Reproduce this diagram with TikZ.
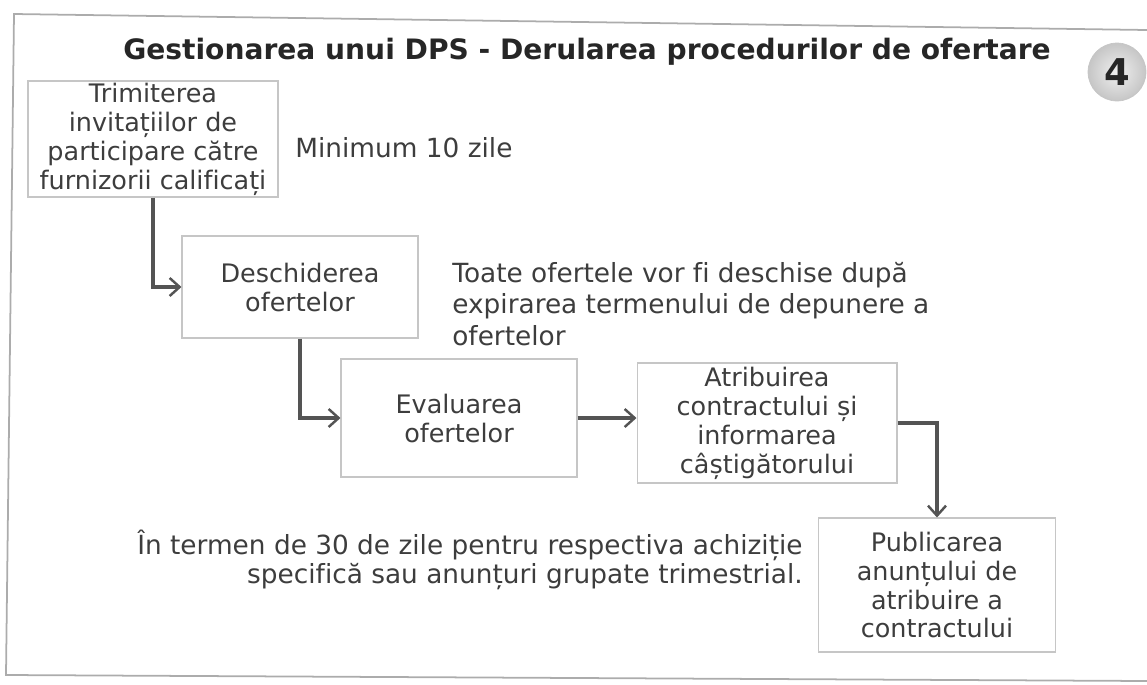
\documentclass[tikz,border=0pt]{standalone}
\usepackage{fontspec}
\setmainfont[Ligatures=NoCommon]{DejaVu Sans}
\usetikzlibrary{arrows.meta}
\definecolor{inkgray}{rgb}{0.24,0.24,0.24}
\definecolor{linegray}{rgb}{0.33,0.33,0.33}

\begin{document}
\begin{tikzpicture}
  [x=0.02cm,y=-0.02cm,every node/.style={text=inkgray,font=\fontsize{14.5}{16.5}\selectfont},
   box/.style={draw=gray!45,line width=0.6pt,align=center,inner sep=0pt},
   note/.style={inner sep=0pt,font=\fontsize{15}{17.5}\selectfont},
   flow/.style={draw=linegray,line width=2.2pt,-{Straight Barb[length=2mm,width=3.6mm,line width=1.4pt]}}]

  \useasboundingbox (0,0) rectangle (1147,684);
  \draw[gray!65,line width=1pt] (1147,30) -- (14,14) -- (6,675) -- (1147,681);

  \node[anchor=base,font=\fontsize{16}{19}\selectfont\bfseries,text=black!85] (title) at (587,59) {Gestionarea unui DPS - Derularea procedurilor de ofertare};
  \node[circle,draw=gray!45,inner color=gray!12,outer color=gray!45,minimum size=1.16cm,font=\fontsize{21}{24}\selectfont\bfseries,text=black!85] (badge) at (1117,72) {4};

  \node[box,minimum width=5cm,minimum height=2.32cm] (n1) at (153,139) {Trimiterea\\invitațiilor de\\participare către\\furnizorii calificați};
  \node[box,minimum width=4.72cm,minimum height=2.04cm] (n2) at (300,287) {Deschiderea\\ofertelor};
  \node[box,minimum width=4.72cm,minimum height=2.36cm] (n3) at (459,418) {Evaluarea\\ofertelor};
  \node[box,minimum width=5.2cm,minimum height=2.4cm] (n4) at (767,423) {Atribuirea\\contractului și\\informarea\\câștigătorului};
  \node[box,minimum width=4.74cm,minimum height=2.68cm] (n5) at (937,585) {Publicarea\\anunțului de\\atribuire a\\contractului};

  \node[note,anchor=base west] (t1) at (295,157) {Minimum 10 zile};
  \node[note,anchor=north west,align=left,font=\fontsize{15}{17.9}\selectfont] (t2) at (452,262) {Toate ofertele vor fi deschise după\\expirarea termenului de depunere a\\ofertelor};
  \node[note,anchor=north east,align=right,font=\fontsize{15}{16.2}\selectfont] (t3) at (803,530) {În termen de 30 de zile pentru respectiva achiziție\\specifică sau anunțuri grupate trimestrial.};

  \foreach \from/\to in {n1/n2,n2/n3}
    \draw[flow] (\from.south) |- (\to.west);
  \draw[flow] (n3.east) -- (n3.east -| n4.west);
  \draw[flow] (n4.east) -| (n5.north);
\end{tikzpicture}
\end{document}
